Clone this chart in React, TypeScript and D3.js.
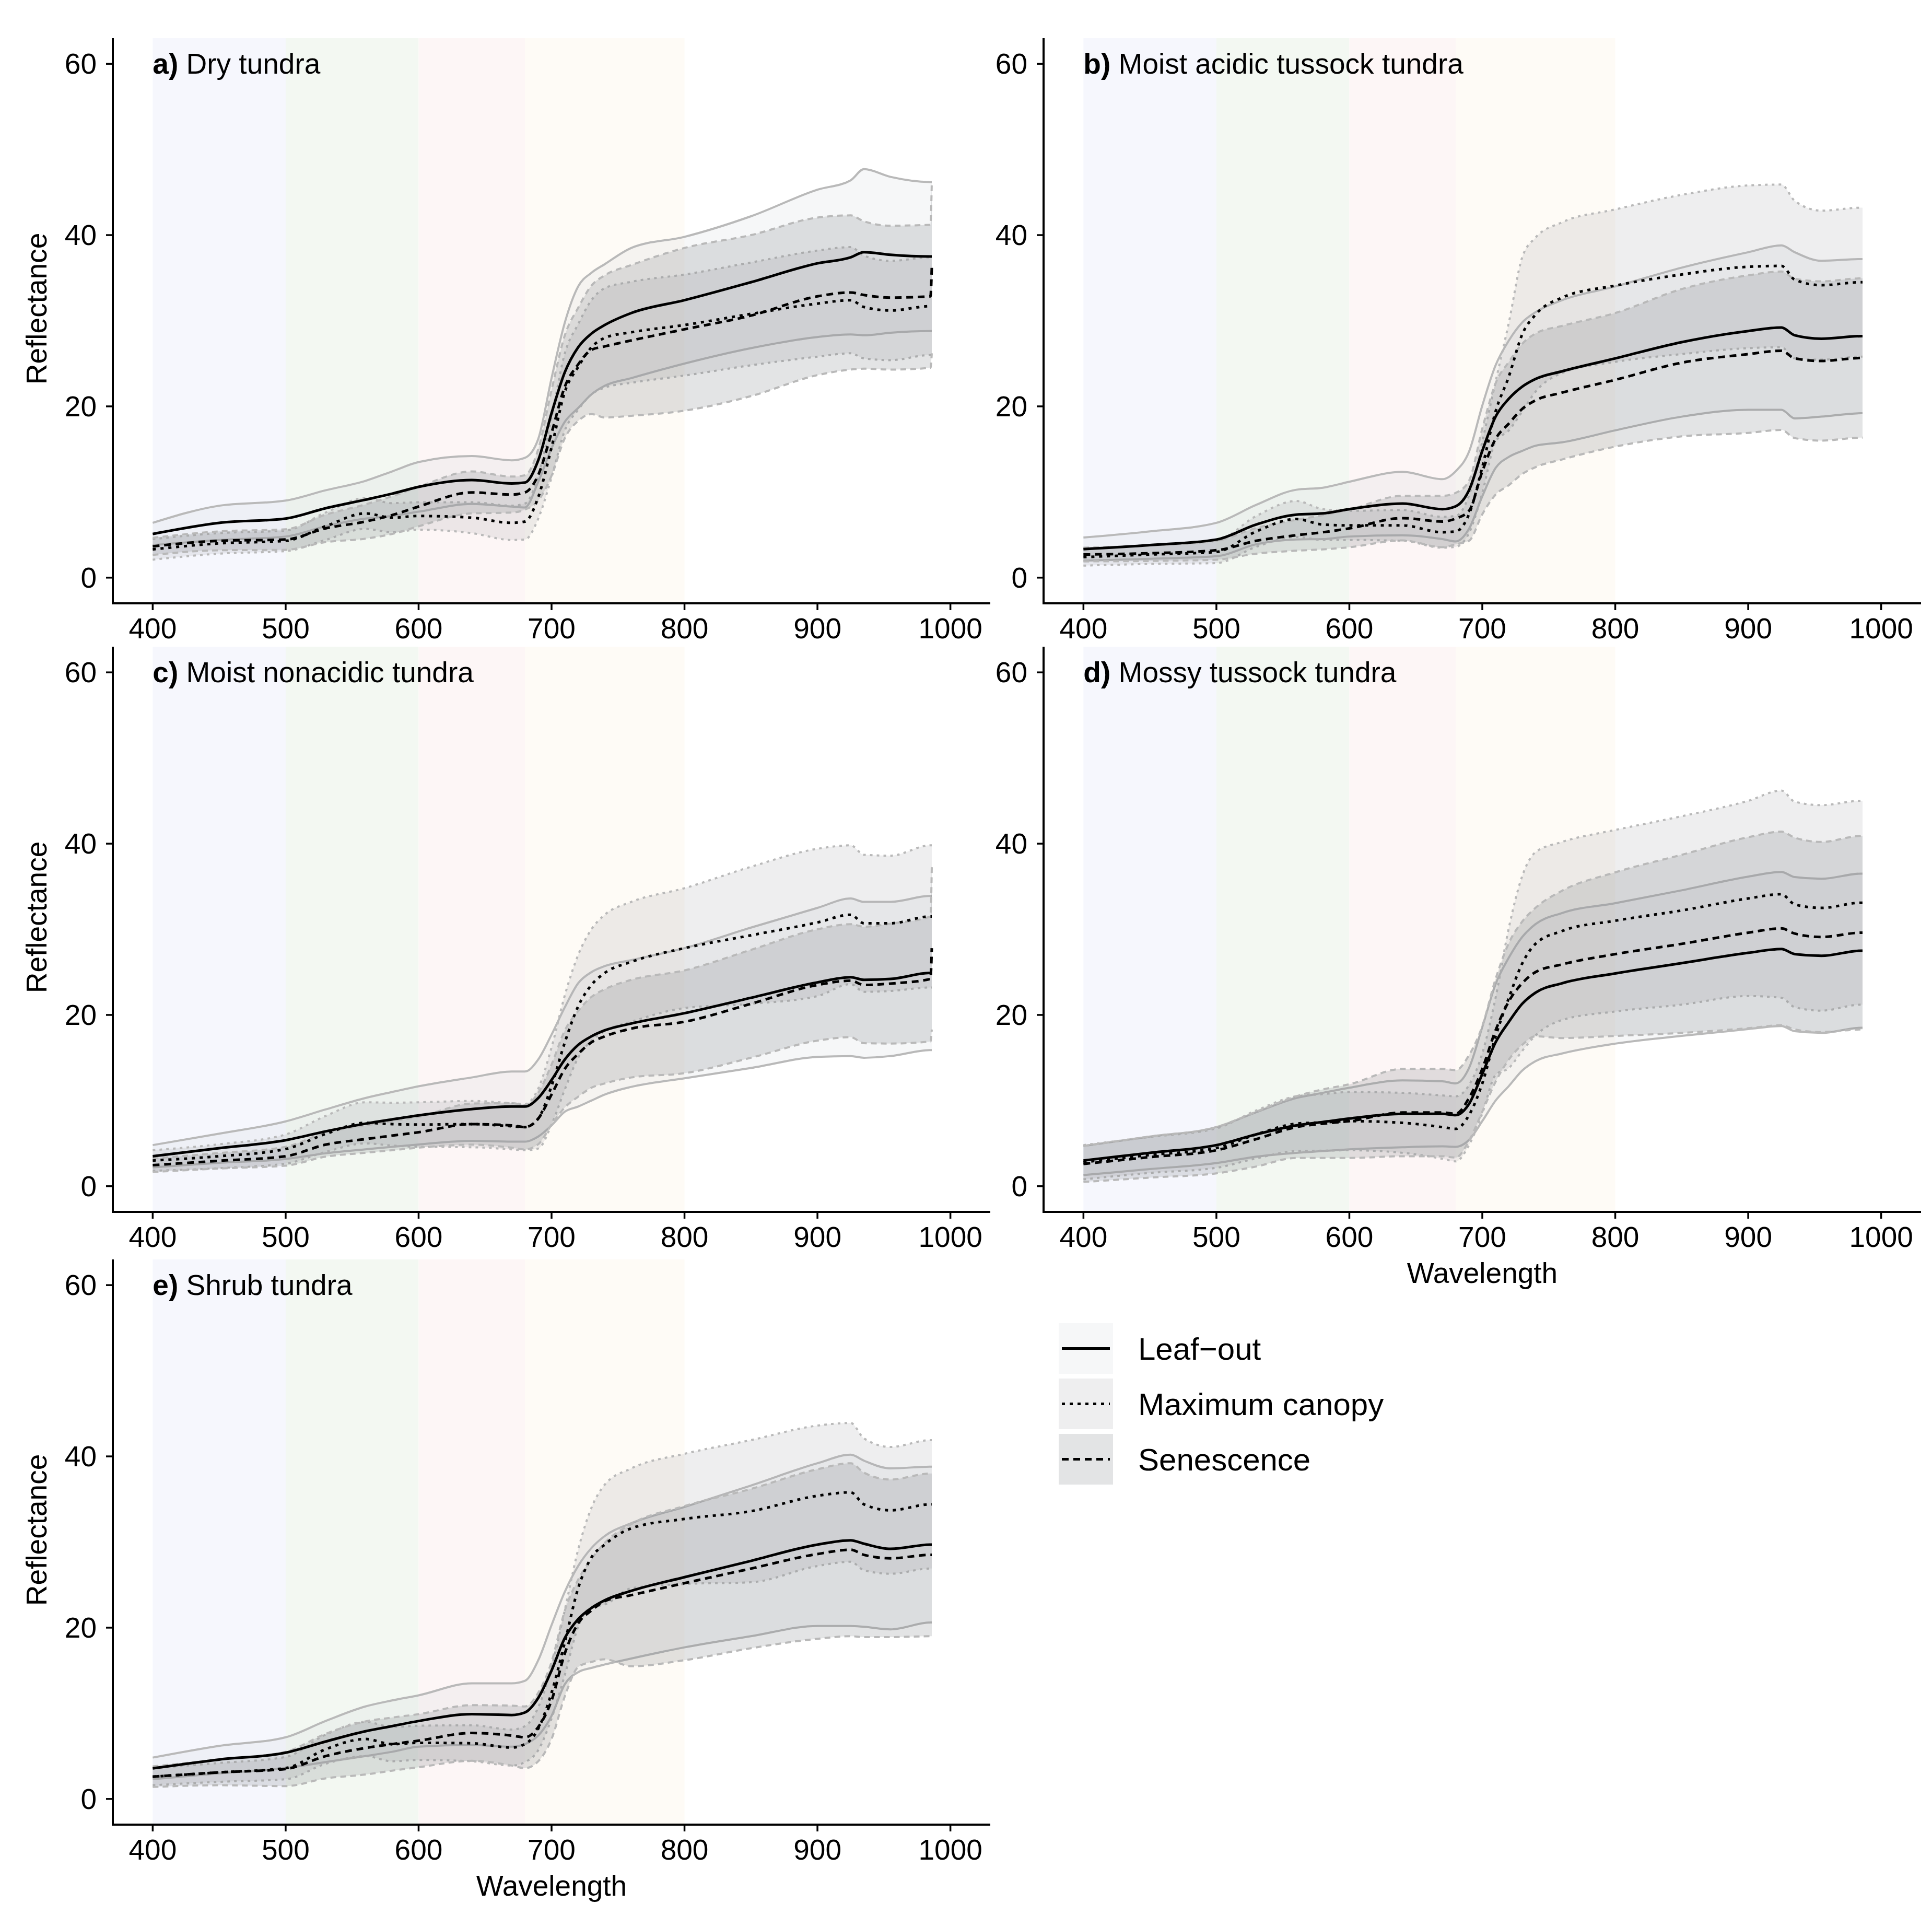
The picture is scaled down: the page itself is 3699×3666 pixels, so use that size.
import React from 'react'
import * as d3 from 'd3'

// wavelengths (nm) at which the spectra were read
const wavelength = [400, 450, 500, 530, 560, 580, 600, 640, 670, 680, 690, 700, 710, 720, 730, 740, 760, 800, 850, 900, 925, 935, 955, 985, 986]

// a) Dry tundra
const aLeafMean = [5.1, 6.4, 6.9, 8.1, 9.1, 9.8, 10.6, 11.4, 11.0, 11.1, 13.7, 19.2, 24.0, 26.9, 28.5, 29.5, 30.9, 32.4, 34.5, 36.7, 37.4, 38.0, 37.7, 37.5, 37.5]
const aLeafSd = [1.3, 2.0, 2.1, 2.1, 2.2, 2.6, 2.9, 2.8, 2.7, 2.9, 2.5, 4.1, 5.8, 7.1, 7.1, 7.1, 7.6, 7.4, 7.7, 8.6, 9.0, 9.7, 9.1, 8.7, 8.7]
const aCanopyMean = [3.3, 4.0, 4.3, 6.0, 7.5, 7.0, 7.2, 7.0, 6.4, 6.55, 9.4, 15.2, 21.7, 24.6, 26.9, 28.0, 28.65, 29.5, 30.8, 32.0, 32.4, 31.6, 31.2, 31.7, 31.7]
const aCanopySd = [1.2, 1.2, 1.2, 1.6, 1.8, 1.7, 1.6, 1.8, 2.0, 2.1, 2.5, 3.5, 4.5, 5.0, 5.5, 5.8, 5.9, 5.9, 6.0, 6.2, 6.2, 6.0, 5.8, 5.7, 5.7]
const aSenMean = [3.65, 4.3, 4.45, 5.75, 6.55, 7.3, 8.3, 9.95, 9.7, 9.95, 12.0, 16.9, 22.3, 24.9, 26.6, 27.0, 27.7, 29.0, 30.6, 32.85, 33.3, 33.0, 32.7, 32.85, 36.2]
const aSenSd = [1.0, 1.1, 1.2, 1.6, 2.0, 2.2, 2.3, 2.45, 2.1, 2.0, 3.0, 5.0, 6.0, 6.6, 7.5, 8.3, 8.8, 9.5, 9.4, 9.2, 9.0, 8.6, 8.4, 8.35, 10.0]

// b) Moist acidic tussock tundra
const bLeafMean = [3.33, 3.8, 4.45, 6.2, 7.36, 7.5, 8.0, 8.65, 8.0, 8.33, 10.2, 14.8, 18.8, 20.9, 22.3, 23.2, 24.1, 25.6, 27.5, 28.8, 29.2, 28.3, 27.9, 28.2, 28.2]
const bLeafSd = [1.35, 1.6, 1.95, 2.3, 2.9, 3.0, 3.2, 3.7, 3.5, 4.1, 4.5, 5.3, 6.0, 6.8, 7.5, 7.8, 8.3, 8.4, 8.7, 9.2, 9.6, 9.7, 9.1, 9.0, 9.0]
const bCanopyMean = [2.4, 2.7, 3.0, 5.4, 6.85, 6.2, 6.1, 6.1, 5.3, 5.4, 7.4, 12.9, 19.4, 23.5, 28.4, 30.7, 32.7, 34.1, 35.4, 36.3, 36.4, 34.8, 34.15, 34.5, 34.5]
const bCanopySd = [1.0, 1.1, 1.3, 1.8, 2.1, 1.8, 1.7, 1.8, 1.8, 1.8, 2.2, 3.0, 3.5, 6.3, 9.0, 9.0, 8.8, 8.9, 9.3, 9.5, 9.5, 9.2, 8.7, 8.7, 8.7]
const bSenMean = [2.7, 2.85, 3.2, 4.3, 4.95, 5.3, 5.75, 6.95, 6.55, 6.9, 7.8, 12.4, 16.2, 18.0, 19.7, 20.7, 21.6, 23.1, 25.1, 26.1, 26.5, 25.6, 25.3, 25.65, 25.65]
const bSenSd = [0.8, 0.9, 1.1, 1.5, 1.8, 2.0, 2.2, 2.6, 3.0, 3.0, 3.5, 5.0, 6.5, 7.2, 7.6, 7.8, 7.8, 7.8, 8.6, 9.2, 9.25, 9.3, 9.3, 9.3, 9.3]

// c) Moist nonacidic tundra
const cLeafMean = [3.5, 4.44, 5.37, 6.4, 7.3, 7.8, 8.27, 9.0, 9.3, 9.3, 10.3, 12.4, 14.8, 16.5, 17.5, 18.2, 19.0, 20.2, 22.0, 23.8, 24.4, 24.1, 24.2, 24.9, 24.9]
const cLeafSd = [1.3, 1.7, 2.2, 2.56, 3.0, 3.2, 3.4, 3.7, 4.1, 4.1, 4.5, 5.3, 6.1, 7.2, 7.5, 7.5, 7.4, 7.6, 8.2, 8.7, 9.2, 9.1, 9.0, 9.0, 9.0]
const cCanopyMean = [3.0, 3.5, 4.34, 6.1, 7.4, 7.25, 7.2, 7.25, 7.0, 6.9, 7.9, 11.7, 16.8, 21.0, 23.5, 24.9, 26.2, 27.8, 29.3, 30.8, 31.7, 30.7, 30.7, 31.5, 31.5]
const cCanopySd = [1.2, 1.4, 1.7, 2.1, 2.4, 2.5, 2.6, 2.7, 2.7, 2.7, 3.5, 4.5, 5.5, 6.0, 6.5, 6.8, 7.0, 7.0, 8.0, 8.6, 8.1, 8.0, 7.9, 8.3, 8.3]
const cSenMean = [2.46, 2.97, 3.5, 4.85, 5.5, 5.9, 6.3, 7.25, 7.1, 6.9, 7.9, 10.7, 13.7, 15.45, 16.8, 17.5, 18.4, 19.2, 21.3, 23.5, 24.0, 23.5, 23.66, 24.2, 27.8]
const cSenSd = [0.8, 0.9, 1.1, 1.4, 1.6, 1.7, 1.8, 2.4, 2.6, 2.6, 3.0, 3.5, 4.5, 5.0, 5.3, 5.5, 5.7, 6.0, 6.3, 6.5, 6.6, 6.8, 7.0, 7.3, 9.5]

// d) Mossy tussock tundra
const dLeafMean = [3.0, 3.9, 4.8, 6.05, 7.1, 7.5, 7.9, 8.45, 8.45, 8.3, 9.6, 13.1, 16.8, 19.2, 21.3, 22.6, 23.7, 24.85, 26.05, 27.25, 27.7, 27.1, 26.9, 27.5, 27.5]
const dLeafSd = [1.7, 1.9, 2.1, 2.6, 3.2, 3.4, 3.6, 3.9, 3.8, 3.7, 4.2, 5.5, 6.8, 7.5, 7.8, 8.0, 8.2, 8.2, 8.5, 8.9, 9.0, 9.0, 9.0, 9.0, 9.0]
const dCanopyMean = [2.8, 3.65, 4.45, 6.05, 7.3, 7.45, 7.6, 7.4, 6.9, 6.7, 8.3, 12.0, 17.5, 22.0, 26.0, 28.3, 29.8, 31.0, 32.2, 33.6, 34.1, 32.9, 32.5, 33.1, 33.1]
const dCanopySd = [2.0, 2.1, 2.3, 2.8, 3.2, 3.3, 3.4, 3.5, 3.7, 3.8, 3.5, 3.5, 4.5, 8.2, 10.2, 10.7, 10.4, 10.6, 11.0, 11.4, 12.1, 12.0, 12.0, 11.9, 11.9]
const dSenMean = [2.6, 3.4, 4.2, 5.5, 6.9, 7.3, 7.6, 8.6, 8.6, 8.45, 10.3, 13.7, 18.2, 21.6, 23.7, 25.0, 25.9, 27.1, 28.3, 29.6, 30.1, 29.5, 29.1, 29.6, 29.6]
const dSenSd = [2.1, 2.4, 2.7, 3.2, 3.6, 4.0, 4.3, 5.1, 5.1, 5.1, 5.0, 5.0, 6.0, 6.8, 7.2, 7.5, 8.6, 9.55, 10.4, 11.15, 11.3, 11.2, 11.1, 11.3, 11.3]

// e) Shrub tundra
const eLeafMean = [3.57, 4.6, 5.4, 6.7, 7.9, 8.5, 9.1, 9.9, 9.8, 10.1, 11.8, 15.0, 18.8, 21.0, 22.3, 23.2, 24.3, 25.9, 27.8, 29.7, 30.2, 29.8, 29.2, 29.7, 29.7]
const eLeafSd = [1.26, 1.6, 1.8, 2.4, 2.9, 3.0, 3.0, 3.6, 3.7, 3.7, 4.4, 5.3, 5.4, 6.2, 7.0, 7.5, 7.9, 8.2, 8.8, 9.5, 10.0, 9.7, 9.4, 9.1, 9.1]
const eCanopyMean = [2.6, 3.1, 3.6, 5.8, 7.0, 6.4, 6.55, 6.5, 6.0, 6.4, 8.2, 12.4, 18.3, 24.6, 28.2, 29.7, 31.6, 32.7, 33.6, 35.4, 35.8, 34.4, 33.7, 34.4, 34.4]
const eCanopySd = [1.0, 1.1, 1.3, 1.7, 2.0, 2.0, 2.0, 2.1, 2.1, 2.1, 2.5, 3.0, 3.8, 4.5, 5.8, 7.0, 7.0, 7.6, 8.3, 8.2, 8.1, 7.7, 7.4, 7.5, 7.5]
const eSenMean = [2.6, 3.1, 3.5, 5.0, 5.95, 6.4, 6.8, 7.7, 7.4, 7.2, 8.4, 11.5, 17.0, 20.5, 22.0, 23.1, 23.8, 25.2, 26.9, 28.6, 29.1, 28.5, 28.1, 28.5, 28.5]
const eSenSd = [1.2, 1.5, 2.0, 2.6, 3.1, 3.1, 3.1, 3.25, 3.5, 3.6, 4.0, 4.5, 5.0, 5.1, 6.0, 6.8, 8.3, 9.0, 9.3, 9.9, 10.1, 9.6, 9.2, 9.5, 9.5]

const xTicks = [400, 500, 600, 700, 800, 900, 1000]
const yTicks = [0, 20, 40, 60]
const stageNames = ['Leaf\u2212out', 'Maximum canopy', 'Senescence']
// spectral regions shaded behind the curves (blue, green, red, red edge)
const bandStart = [400, 500, 600, 680]
const bandEnd = [500, 600, 680, 800]

const bandFill = ['#f6f7fd', '#f3f8f2', '#fdf6f6', '#fefbf6']
const ribbonFill = ['#d3d8db', '#aaacb0', '#74787f']
const meanDash = ['none', '6 9', '13 9']
const edgeDash = ['none', '5 8', '11 8']

const FONT = '"Liberation Sans", Arial, Helvetica, sans-serif'
const W = 3699
const H = 3666
const PANEL_W = 1680
const PANEL_H = 1082

type Stage = { mean: number[]; sd: number[] }
type PanelSpec = {
  tag: string
  name: string
  stages: Stage[]
  left: number
  top: number
  yTitle: boolean
  xTitle: boolean
}

const panels: PanelSpec[] = [
  {
    tag: 'a)', name: 'Dry tundra', left: 216, top: 73, yTitle: true, xTitle: false,
    stages: [{ mean: aLeafMean, sd: aLeafSd }, { mean: aCanopyMean, sd: aCanopySd }, { mean: aSenMean, sd: aSenSd }],
  },
  {
    tag: 'b)', name: 'Moist acidic tussock tundra', left: 1998, top: 73, yTitle: false, xTitle: false,
    stages: [{ mean: bLeafMean, sd: bLeafSd }, { mean: bCanopyMean, sd: bCanopySd }, { mean: bSenMean, sd: bSenSd }],
  },
  {
    tag: 'c)', name: 'Moist nonacidic tundra', left: 216, top: 1238, yTitle: true, xTitle: false,
    stages: [{ mean: cLeafMean, sd: cLeafSd }, { mean: cCanopyMean, sd: cCanopySd }, { mean: cSenMean, sd: cSenSd }],
  },
  {
    tag: 'd)', name: 'Mossy tussock tundra', left: 1998, top: 1238, yTitle: false, xTitle: true,
    stages: [{ mean: dLeafMean, sd: dLeafSd }, { mean: dCanopyMean, sd: dCanopySd }, { mean: dSenMean, sd: dSenSd }],
  },
  {
    tag: 'e)', name: 'Shrub tundra', left: 216, top: 2411, yTitle: true, xTitle: true,
    stages: [{ mean: eLeafMean, sd: eLeafSd }, { mean: eCanopyMean, sd: eCanopySd }, { mean: eSenMean, sd: eSenSd }],
  },
]

const Panel: React.FC<{ spec: PanelSpec }> = ({ spec }) => {
  const x = d3.scaleLinear().domain([370, 1030]).range([spec.left, spec.left + PANEL_W])
  const y = d3.scaleLinear().domain([-3, 63]).range([spec.top + PANEL_H, spec.top])
  const bottom = spec.top + PANEL_H

  const ribbon = (s: Stage) =>
    d3
      .area<number>()
      .x((_, i) => x(wavelength[i]))
      .y0((d, i) => y(d - s.sd[i]))
      .y1((d, i) => y(d + s.sd[i]))
      .curve(d3.curveMonotoneX)(s.mean) || ''

  const edge = (s: Stage, sign: number) =>
    d3
      .line<number>()
      .x((_, i) => x(wavelength[i]))
      .y((d, i) => y(d + sign * s.sd[i]))
      .curve(d3.curveMonotoneX)(s.mean) || ''

  const meanLine = d3
    .line<number>()
    .x((_, i) => x(wavelength[i]))
    .y((d) => y(d))
    .curve(d3.curveMonotoneX)

  return (
    <g>
      {bandStart.map((b, i) => (
        <rect
          key={'band' + i}
          x={x(b)}
          y={spec.top}
          width={x(bandEnd[i]) - x(b)}
          height={PANEL_H}
          fill={bandFill[i]}
        />
      ))}

      {spec.stages.map((s, i) => (
        <g key={'rib' + i}>
          <path d={ribbon(s)} fill={ribbonFill[i]} fillOpacity={0.2} stroke="none" />
          <path d={edge(s, 1)} fill="none" stroke="#b9b9b9" strokeWidth={4} strokeDasharray={edgeDash[i]} />
          <path d={edge(s, -1)} fill="none" stroke="#b9b9b9" strokeWidth={4} strokeDasharray={edgeDash[i]} />
        </g>
      ))}

      {spec.stages.map((s, i) => (
        <path
          key={'mean' + i}
          d={meanLine(s.mean) || ''}
          fill="none"
          stroke="#000"
          strokeWidth={5}
          strokeDasharray={meanDash[i]}
        />
      ))}

      {/* axes */}
      <line x1={spec.left} x2={spec.left} y1={spec.top} y2={bottom} stroke="#000" strokeWidth={4} />
      <line x1={spec.left - 2} x2={spec.left + PANEL_W} y1={bottom} y2={bottom} stroke="#000" strokeWidth={4} />
      {yTicks.map((t) => (
        <g key={'yt' + t}>
          <line x1={spec.left - 13} x2={spec.left} y1={y(t)} y2={y(t)} stroke="#000" strokeWidth={3.5} />
          <text x={spec.left - 31} y={y(t) + 19} textAnchor="end" fontSize={55} fontFamily={FONT}>
            {t}
          </text>
        </g>
      ))}
      {xTicks.map((t) => (
        <g key={'xt' + t}>
          <line x1={x(t)} x2={x(t)} y1={bottom} y2={bottom + 13} stroke="#000" strokeWidth={3.5} />
          <text x={x(t)} y={bottom + 67} textAnchor="middle" fontSize={55} fontFamily={FONT}>
            {t}
          </text>
        </g>
      ))}

      <text x={x(400)} y={y(60) + 19} fontSize={55} fontFamily={FONT}>
        <tspan fontWeight="bold">{spec.tag}</tspan>
        {' ' + spec.name}
      </text>

      {spec.yTitle && (
        <text
          transform={`translate(${spec.left - 127},${spec.top + PANEL_H / 2 - 23}) rotate(-90)`}
          textAnchor="middle"
          fontSize={55}
          fontFamily={FONT}
        >
          Reflectance
        </text>
      )}
      {spec.xTitle && (
        <text x={spec.left + PANEL_W / 2} y={bottom + 136} textAnchor="middle" fontSize={55} fontFamily={FONT}>
          Wavelength
        </text>
      )}
    </g>
  )
}

const Legend: React.FC = () => {
  const keyX = 2027
  const keyW = 104
  const keyH = 97
  const rowY = d3.scaleLinear().domain([0, 1]).range([2533, 2639])
  return (
    <g>
      {stageNames.map((name, i) => {
        const top = rowY(i)
        return (
          <g key={name}>
            <rect x={keyX} y={top} width={keyW} height={keyH} fill={ribbonFill[i]} fillOpacity={0.2} />
            <line
              x1={keyX + 6}
              x2={keyX + keyW - 6}
              y1={top + keyH / 2}
              y2={top + keyH / 2}
              stroke="#000"
              strokeWidth={5}
              strokeDasharray={meanDash[i]}
            />
            <text x={keyX + 152} y={top + keyH / 2 + 21} fontSize={60} fontFamily={FONT}>
              {name}
            </text>
          </g>
        )
      })}
    </g>
  )
}

const App: React.FC = () => {
  return (
    <svg
      width={W}
      height={H}
      viewBox={`0 0 ${W} ${H}`}
      style={{ position: 'absolute', left: 0, top: 0, display: 'block', background: '#fff' }}
    >
      <rect x={0} y={0} width={W} height={H} fill="#fff" />
      {panels.map((p) => (
        <Panel key={p.tag} spec={p} />
      ))}
      <Legend />
    </svg>
  )
}

export default App
